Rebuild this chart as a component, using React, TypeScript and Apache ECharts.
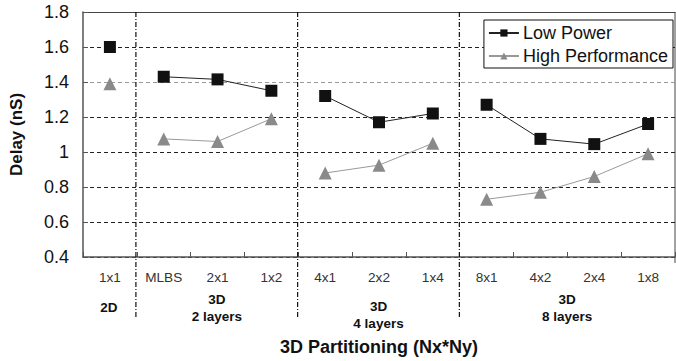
import React, { useEffect, useRef } from "react";
import * as echarts from "echarts";

const categories = ["1x1", "MLBS", "2x1", "1x2", "4x1", "2x2", "1x4", "8x1", "4x2", "2x4", "1x8"];
const lowPower = [1.6, 1.43, 1.415, 1.35, 1.32, 1.17, 1.22, 1.27, 1.075, 1.045, 1.16];
const highPerf = [1.39, 1.075, 1.06, 1.19, 0.88, 0.925, 1.05, 0.73, 0.77, 0.86, 0.99];
// groups as [startIndex, endIndex] inclusive
const groupRanges = [[0, 0], [1, 3], [4, 6], [7, 10]];
const groupLabels = ["2D", "3D\n2 layers", "3D\n4 layers", "3D\n8 layers"];
const groupLabelY = [307, 308, 315, 308];
const yTicks = [0.4, 0.6, 0.8, 1.0, 1.2, 1.4, 1.6, 1.8];

const W = 676;
const H = 361;
const GL = 82;
const GR = 1;
const GT = 12;
const GB = 98;

export default function App() {
  const ref = useRef<HTMLDivElement>(null);
  useEffect(() => {
    if (!ref.current) return;
    const chart = echarts.init(ref.current, undefined, { renderer: "svg" });
    const font = "Liberation Sans, Arial, sans-serif";

    const mkSeries = (name: string, values: number[], color: string, lineColor: string, symbol: string, size: number) =>
      groupRanges.map(([s, e]) => ({
        name,
        type: "line",
        data: values.map((v, i) => (i >= s && i <= e ? v : "-")),
        symbol,
        symbolSize: size,
        connectNulls: false,
        itemStyle: { color },
        lineStyle: { color: lineColor, width: 1 },
        z: name === "Low Power" ? 4 : 3,
      }));

    const plotW = W - GL - GR;
    const step = plotW / categories.length;
    const graphic: any[] = [];
    // right border
    graphic.push({
      type: "line",
      shape: { x1: W - GR, y1: GT, x2: W - GR, y2: H - GB },
      style: { stroke: "#444", lineWidth: 1 },
    });
    // group separators
    groupRanges.slice(1).forEach(([s]) => {
      const x = GL + s * step;
      graphic.push({
        type: "line",
        shape: { x1: x, y1: GT, x2: x, y2: 317 },
        style: { stroke: "#111", lineWidth: 1.2, lineDash: [5, 2, 1, 2] },
        z: 10,
      });
    });
    // group labels
    groupRanges.forEach(([s, e], gi) => {
      const cx = GL + ((s + e + 1) / 2) * step;
      graphic.push({
        type: "text",
        x: cx,
        y: groupLabelY[gi],
        style: {
          text: groupLabels[gi],
          font: `bold 13.5px ${font}`,
          fill: "#111",
          align: "center",
          verticalAlign: "middle",
          lineHeight: 17,
        },
      });
    });

    const splitColors = yTicks.map((v) => (Math.abs(v - 1.4) < 1e-6 ? "#9a9a9a" : "#222"));

    chart.setOption({
      animation: false,
      backgroundColor: "#fff",
      textStyle: { fontFamily: font },
      grid: { left: GL, right: GR, top: GT, bottom: GB, containLabel: false },
      legend: {
        data: ["Low Power", "High Performance"],
        orient: "vertical",
        right: 3,
        top: 20,
        itemWidth: 30,
        itemHeight: 9,
        itemGap: 5,
        padding: [4, 5, 3, 4],
        borderColor: "#111",
        borderWidth: 1,
        backgroundColor: "#fff",
        textStyle: { fontSize: 18, color: "#111", fontFamily: font, padding: [0, 0, 0, -1] },
      },
      xAxis: [
        {
          type: "category",
          data: categories,
          boundaryGap: true,
          name: "3D Partitioning (Nx*Ny)",
          nameLocation: "middle",
          nameGap: 81,
          nameTextStyle: { fontSize: 18, fontWeight: "bold", color: "#111", fontFamily: font },
          axisLine: { lineStyle: { color: "#555", width: 1.5 } },
          axisTick: { show: true, inside: true, length: 5, lineStyle: { color: "#555" } },
          axisLabel: { fontSize: 13.6, color: "#333", margin: 13, fontFamily: font },
          splitLine: { show: false },
        },
        {
          type: "category",
          data: categories,
          position: "top",
          axisLine: { lineStyle: { color: "#444", width: 1.2 } },
          axisTick: { show: false },
          axisLabel: { show: false },
        },
      ],
      yAxis: {
        type: "value",
        min: 0.4,
        max: 1.8,
        interval: 0.2,
        name: "Delay (nS)",
        nameLocation: "middle",
        nameGap: 58,
        nameTextStyle: { fontSize: 17, fontWeight: "bold", color: "#111", fontFamily: font },
        axisLine: { show: true, lineStyle: { color: "#555", width: 1.5 } },
        axisTick: { show: true, inside: true, length: 5, lineStyle: { color: "#555" } },
        axisLabel: {
          fontSize: 18,
          color: "#111",
          margin: 14,
          fontFamily: font,
          formatter: (v: number) => (Math.abs(v - 1) < 1e-6 ? "1" : v.toFixed(1)),
        },
        splitLine: { show: true, lineStyle: { color: splitColors, type: [4, 3], width: 1 } },
      },
      series: [
        ...mkSeries("Low Power", lowPower, "#111", "#222", "rect", 12),
        ...mkSeries("High Performance", highPerf, "#8a8a8a", "#999", "triangle", 13),
      ],
      graphic,
    });
    return () => chart.dispose();
  }, []);
  return <div ref={ref} style={{ width: W, height: H, position: "absolute", left: 0, top: 0 }} />;
}
